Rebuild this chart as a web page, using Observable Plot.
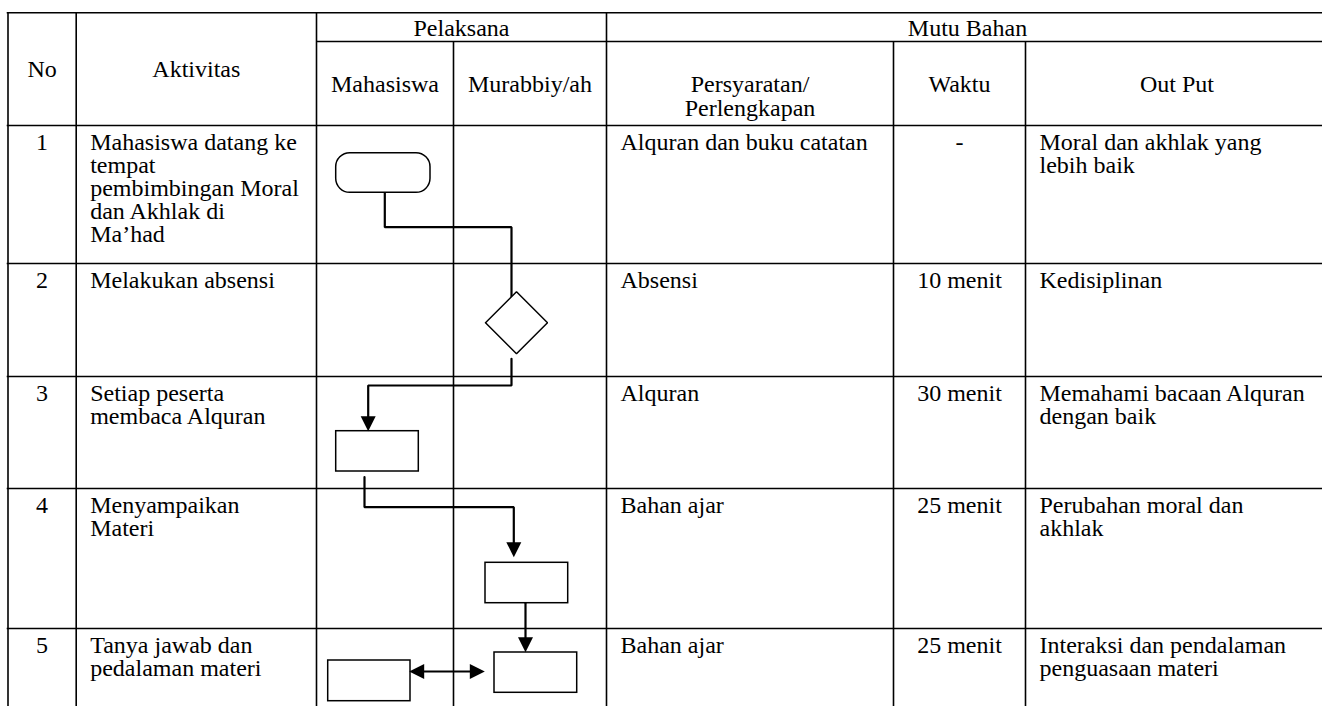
<!DOCTYPE html>
<html><head><meta charset="utf-8">
<script src="https://cdn.jsdelivr.net/npm/d3@7"></script>
<script src="https://cdn.jsdelivr.net/npm/@observablehq/plot@0.6"></script>
<style>html,body{margin:0;padding:0;background:#fff;overflow:hidden}</style>
</head><body><div id="chart"></div>
<script>
// ---------------- Data (table content) ----------------
const groupHeaders = ["Pelaksana", "Mutu Bahan"];
const columnHeaders = ["No", "Aktivitas", "Mahasiswa", "Murabbiy/ah", "Persyaratan/\nPerlengkapan", "Waktu", "Out Put"];
const nomor = ["1", "2", "3", "4", "5"];
const aktivitas = [
  "Mahasiswa datang ke\ntempat\npembimbingan Moral\ndan Akhlak di\nMa\u2019had",
  "Melakukan absensi",
  "Setiap peserta\nmembaca Alquran",
  "Menyampaikan\nMateri",
  "Tanya jawab dan\npedalaman materi"
];
const persyaratan = ["Alquran dan buku catatan", "Absensi", "Alquran", "Bahan ajar", "Bahan ajar"];
const waktu = ["-", "10 menit", "30 menit", "25 menit", "25 menit"];
const outPut = [
  "Moral dan akhlak yang\nlebih baik",
  "Kedisiplinan",
  "Memahami bacaan Alquran\ndengan baik",
  "Perubahan moral dan\nakhlak",
  "Interaksi dan pendalaman\npenguasaan materi"
];
// flowchart steps: which lane performs each step and with which symbol
const flowSteps = [
  {step: 1, lane: "Mahasiswa", shape: "terminator"},
  {step: 2, lane: "Murabbiy/ah", shape: "decision"},
  {step: 3, lane: "Mahasiswa", shape: "process"},
  {step: 4, lane: "Murabbiy/ah", shape: "process"},
  {step: 5, lane: "Murabbiy/ah", shape: "process"},
  {step: 5, lane: "Mahasiswa", shape: "process"}
];

// ---------------- Layout (page geometry) ----------------
const W = 1322, H = 706;
const colX = [7.5, 75.7, 316, 453, 606, 893, 1025, 1328];
const rowY = [12.3, 41, 125, 263, 376, 488, 628, 712];
const FS = 24, LINE = 23, PAD = 14, BASE = 24;
const shapeGeom = [
  {x1: 335.7, x2: 430, y1: 152.7, y2: 192.3},
  {cx: 516, cy: 322.3, half: 31},
  {x1: 335.7, x2: 418.3, y1: 430.7, y2: 471},
  {x1: 485, x2: 567.7, y1: 562.3, y2: 602.7},
  {x1: 494, x2: 576.7, y1: 652, y2: 692.3},
  {x1: 327.7, x2: 410, y1: 660, y2: 700.7}
];
const connectorGeom = [
  {id: "1-2", pts: [[384.3, 192.3], [384.3, 226.7], [511, 226.7], [511, 296.3]], heads: []},
  {id: "2-3", pts: [[511, 358.3], [511, 385], [367.7, 385], [367.7, 422]], heads: [[367.7, 430.7, 0]]},
  {id: "3-4", pts: [[364, 476.7], [364, 506.7], [513.3, 506.7], [513.3, 548]], heads: [[513.3, 556.7, 0]]},
  {id: "4-5", pts: [[525, 602.7], [525, 643]], heads: [[525, 651.7, 0]]},
  {id: "5-5", pts: [[416, 671], [477, 671]], heads: [[408.7, 671, 90], [484.3, 671, -90]]}
];

// ---------------- Build mark data ----------------
const cx = (a, b) => (colX[a] + colX[b]) / 2;
const texts = [];
function addText(str, x, yBase, step, anchor) {
  str.split("\n").forEach((t, i) => texts.push({t, x, y: yBase + i * step, anchor}));
}
// group headers
addText(groupHeaders[0], cx(2, 4), 35, LINE, "middle");
addText(groupHeaders[1], cx(4, 7), 35, LINE, "middle");
// column headers
addText(columnHeaders[0], cx(0, 1), 76.5, 24, "middle");
addText(columnHeaders[1], cx(1, 2), 76.5, 24, "middle");
addText(columnHeaders[2], cx(2, 3), 91.5, 24, "middle");
addText(columnHeaders[3], cx(3, 4), 91.5, 24, "middle");
addText(columnHeaders[4], cx(4, 5), 91, 24, "middle");
addText(columnHeaders[5], cx(5, 6), 91.5, 24, "middle");
addText(columnHeaders[6], cx(6, 7), 91.5, 24, "middle");
// body rows
nomor.forEach((n, r) => {
  const top = rowY[2 + r] + BASE;
  addText(n, cx(0, 1), top, LINE, "middle");
  addText(aktivitas[r], colX[1] + PAD, top, LINE, "start");
  addText(persyaratan[r], colX[4] + PAD, top, LINE, "start");
  addText(waktu[r], cx(5, 6), top, LINE, "middle");
  addText(outPut[r], colX[6] + PAD, top, LINE, "start");
});

// grid lines
const hLines = [
  {y: rowY[0], x1: colX[0] - 0.8, x2: colX[7]},
  {y: rowY[1], x1: colX[2], x2: colX[7]},
  ...rowY.slice(2, 7).map(y => ({y, x1: colX[0] - 0.8, x2: colX[7]}))
];
const vLines = [
  {x: colX[0], y1: rowY[0], y2: H},
  {x: colX[1], y1: rowY[0], y2: H},
  {x: colX[2], y1: rowY[0], y2: H},
  {x: colX[3], y1: rowY[1], y2: H},
  {x: colX[4], y1: rowY[0], y2: H},
  {x: colX[5], y1: rowY[1], y2: H},
  {x: colX[6], y1: rowY[1], y2: H}
];

const shapes = flowSteps.map((s, i) => ({...s, ...shapeGeom[i]}));
const diamond = shapes.filter(d => d.shape === "decision")
  .flatMap(d => [[-1, 0], [0, -1], [1, 0], [0, 1], [-1, 0]].map(([a, b]) => ({x: d.cx + a * d.half, y: d.cy + b * d.half, id: d.step})));
const linePts = connectorGeom.flatMap(c => c.pts.map(([x, y]) => ({x, y, id: c.id})));
const heads = connectorGeom.flatMap(c => c.heads.map(([x, y, a]) => ({x, y, a})));

const arrowSymbol = {
  draw(ctx) {
    ctx.moveTo(0, 0);
    ctx.lineTo(-7.5, -15);
    ctx.lineTo(7.5, -15);
    ctx.closePath();
  }
};

const font = {fontFamily: "'Liberation Serif', 'Times New Roman', serif", fontSize: FS, fill: "black", lineAnchor: "bottom"};

const chart = Plot.plot({
  width: W,
  height: H,
  margin: 0,
  x: {domain: [0, W], range: [0, W], axis: null},
  y: {domain: [0, H], range: [0, H], axis: null},
  style: {background: "white", overflow: "hidden"},
  marks: [
    Plot.ruleY(hLines, {y: "y", x1: "x1", x2: "x2", stroke: "black", strokeWidth: 1.6}),
    Plot.ruleX(vLines, {x: "x", y1: "y1", y2: "y2", stroke: "black", strokeWidth: 1.6}),
    Plot.line(linePts, {x: "x", y: "y", z: "id", stroke: "black", strokeWidth: 2.2, strokeLinejoin: "miter", curve: "linear"}),
    Plot.rect(shapes.filter(d => d.shape === "process"), {x1: "x1", x2: "x2", y1: "y1", y2: "y2", fill: "white", stroke: "black", strokeWidth: 1.5}),
    Plot.rect(shapes.filter(d => d.shape === "terminator"), {x1: "x1", x2: "x2", y1: "y1", y2: "y2", rx: 14, ry: 14, fill: "white", stroke: "black", strokeWidth: 1.5}),
    Plot.line(diamond, {x: "x", y: "y", z: "id", stroke: "black", strokeWidth: 1.5, fill: "white", strokeLinejoin: "miter"}),
    Plot.dot(heads, {x: "x", y: "y", rotate: "a", symbol: arrowSymbol, r: 5, fill: "black", stroke: "none"}),
    Plot.text(texts.filter(d => d.anchor === "middle"), {x: "x", y: "y", text: "t", textAnchor: "middle", ...font}),
    Plot.text(texts.filter(d => d.anchor === "start"), {x: "x", y: "y", text: "t", textAnchor: "start", ...font})
  ]
});
document.getElementById("chart").appendChild(chart);
</script>
</body></html>
